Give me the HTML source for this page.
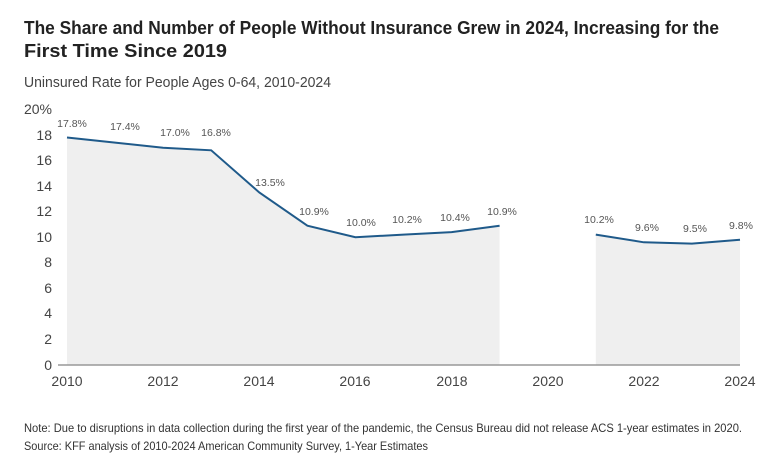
<!DOCTYPE html>
<html><head><style>
body{margin:0;width:780px;height:470px;background:#fff;font-family:"Liberation Sans",sans-serif;overflow:hidden}
</style></head><body>
<svg width="780" height="470" xmlns="http://www.w3.org/2000/svg" font-family="Liberation Sans, sans-serif">
<text x="24" y="34" font-size="18" font-weight="bold" fill="#222" textLength="695" lengthAdjust="spacingAndGlyphs">The Share and Number of People Without Insurance Grew in 2024, Increasing for the</text>
<text x="24" y="57" font-size="18" font-weight="bold" fill="#222" textLength="203" lengthAdjust="spacingAndGlyphs">First Time Since 2019</text>
<text x="24" y="87" font-size="14.5" fill="#444" textLength="307" lengthAdjust="spacingAndGlyphs">Uninsured Rate for People Ages 0-64, 2010-2024</text>
<g font-size="14" fill="#444" text-anchor="end">
<text x="52" y="114">20%</text><text x="52" y="140">18</text><text x="52" y="165">16</text><text x="52" y="191">14</text><text x="52" y="216">12</text><text x="52" y="242">10</text><text x="52" y="267">8</text><text x="52" y="293">6</text><text x="52" y="318">4</text><text x="52" y="344">2</text><text x="52" y="370">0</text>
</g>
<polygon fill="#efefef" points="67,365 67,137.5 115.1,142.6 163.1,147.7 211.2,150.3 259.3,192.5 307.4,225.7 355.4,237.2 403.5,234.6 451.6,232.1 499.6,225.7 499.6,365"/>
<polygon fill="#efefef" points="595.8,365 595.8,234.6 643.8,242.3 691.9,243.6 740,239.8 740,365"/>
<polyline fill="none" stroke="#1f5a8a" stroke-width="2" points="67,137.5 115.1,142.6 163.1,147.7 211.2,150.3 259.3,192.5 307.4,225.7 355.4,237.2 403.5,234.6 451.6,232.1 499.6,225.7"/>
<polyline fill="none" stroke="#1f5a8a" stroke-width="2" points="595.8,234.6 643.8,242.3 691.9,243.6 740,239.8"/>
<line x1="58" y1="365" x2="740" y2="365" stroke="#999" stroke-width="1.5"/>
<g font-size="10.5" fill="#555" text-anchor="middle">
<text x="72" y="127">17.8%</text><text x="125" y="130">17.4%</text><text x="175" y="136">17.0%</text><text x="216" y="136">16.8%</text><text x="270" y="186">13.5%</text><text x="314" y="215">10.9%</text><text x="361" y="226">10.0%</text><text x="407" y="223">10.2%</text><text x="455" y="221">10.4%</text><text x="502" y="215">10.9%</text><text x="599" y="223">10.2%</text><text x="647" y="231">9.6%</text><text x="695" y="232">9.5%</text><text x="741" y="229">9.8%</text>
</g>
<g font-size="14" fill="#444" text-anchor="middle">
<text x="67" y="386">2010</text><text x="163" y="386">2012</text><text x="259" y="386">2014</text><text x="355" y="386">2016</text><text x="452" y="386">2018</text><text x="548" y="386">2020</text><text x="644" y="386">2022</text><text x="740" y="386">2024</text>
</g>
<text x="24" y="432" font-size="12" fill="#333" textLength="718" lengthAdjust="spacingAndGlyphs">Note: Due to disruptions in data collection during the first year of the pandemic, the Census Bureau did not release ACS 1-year estimates in 2020.</text>
<text x="24" y="450" font-size="12" fill="#333" textLength="404" lengthAdjust="spacingAndGlyphs">Source: KFF analysis of 2010-2024 American Community Survey, 1-Year Estimates</text>
</svg>
</body></html>
